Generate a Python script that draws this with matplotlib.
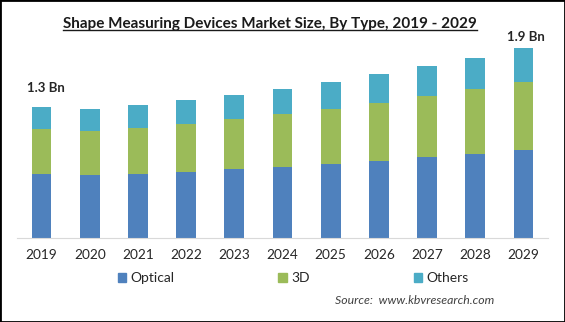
import numpy as np
import matplotlib
matplotlib.use('Agg')
import matplotlib.pyplot as plt
from matplotlib.lines import Line2D
from matplotlib.patches import Rectangle, Patch

plt.rcParams['font.family'] = ['Lato', 'DejaVu Sans']

# values in USD Bn
years = ['2019', '2020', '2021', '2022', '2023', '2024',
         '2025', '2026', '2027', '2028', '2029']
optical = [0.64, 0.63, 0.64, 0.66, 0.69, 0.71, 0.74, 0.77, 0.81, 0.84, 0.88]
three_d = [0.45, 0.44, 0.46, 0.48, 0.50, 0.53, 0.55, 0.58, 0.61, 0.65, 0.68]
others = [0.22, 0.22, 0.23, 0.24, 0.24, 0.25, 0.27, 0.29, 0.30, 0.31, 0.34]
series_names = ['Optical', '3D', 'Others']
first_label = '1.3 Bn'
last_label = '1.9 Bn'

colors = ['#4F81BD', '#9BBB59', '#4BACC6']

W, H = 565, 322
fig = plt.figure(figsize=(W/100, H/100), dpi=100)
ax = fig.add_axes([17/W, 84/H, 531/W, 210/H])

x = np.arange(len(years))
opt = np.array(optical)
td = np.array(three_d)
oth = np.array(others)
ax.bar(x, opt, width=0.41, color=colors[0])
ax.bar(x, td, bottom=opt, width=0.41, color=colors[1])
ax.bar(x, oth, bottom=opt + td, width=0.41, color=colors[2])
total = opt + td + oth

ax.set_xlim(-0.51, 10.51)
ax.set_ylim(0, 2.1)
for s in ['top', 'right', 'left']:
    ax.spines[s].set_visible(False)
ax.spines['bottom'].set_color('#D9D9D9')
ax.set_yticks([])
ax.set_xticks(x)
ax.set_xticklabels(years, fontsize=9.8, color='#262626')
ax.tick_params(axis='x', length=0, pad=8)

ax.annotate(first_label, (x[0], total[0]), xytext=(3, 14),
            textcoords='offset points', ha='center', va='center',
            fontsize=9.5, fontweight='bold', color='#262626')
ax.annotate(last_label, (x[-1], total[-1]), xytext=(1.5, 8),
            textcoords='offset points', ha='center', va='center',
            fontsize=9.5, fontweight='bold', color='#262626')

handles = [Patch(color=c) for c in colors]
fig.legend(handles, series_names, loc='center', bbox_to_anchor=(293/W, 1 - 278/H),
           ncol=3, frameon=False, fontsize=10, handlelength=0.6, handleheight=0.6,
           handletextpad=0.3, columnspacing=7.5, labelcolor='#262626')

fig.text(335/W, 1 - 300/H, 'Source:  www.kbvresearch.com', style='italic',
         fontsize=8.8, va='center', color='#404040')

title = fig.text(270/W, 1 - 24/H, 'Shape Measuring Devices Market Size, By Type, 2019 - 2029',
                 ha='center', va='center', fontsize=11, fontweight='bold', color='#1a1a1a')
fig.canvas.draw()
bb = title.get_window_extent(fig.canvas.get_renderer())
uy = (bb.y0 + 1.5) / H
fig.add_artist(Line2D([bb.x0 / W, bb.x1 / W], [uy, uy], color='#1a1a1a', lw=1))

fig.add_artist(Rectangle((0, 0), 1, 1, transform=fig.transFigure, fill=False,
                         edgecolor='black', lw=2))

fig.savefig('out.png', dpi=100)
